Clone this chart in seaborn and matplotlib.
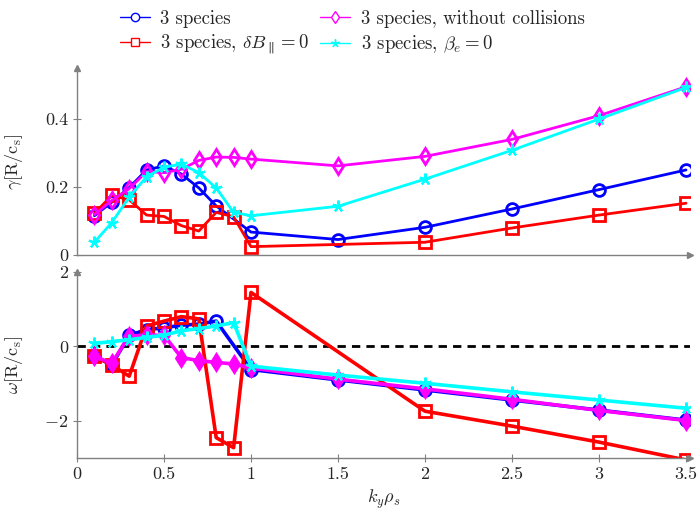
import matplotlib
matplotlib.use('Agg')
import matplotlib.pyplot as plt
from matplotlib.lines import Line2D
import seaborn as sns

sns.set_style('ticks')
plt.rcParams['font.family'] = 'serif'
plt.rcParams['font.serif'] = ['cmr10', 'DejaVu Serif']
plt.rcParams['mathtext.fontset'] = 'cm'
plt.rcParams['axes.formatter.use_mathtext'] = True

# data
k_blue = [0.1, 0.2, 0.3, 0.4, 0.5, 0.6, 0.7, 0.8, 1.0, 1.5, 2.0, 2.5, 3.0, 3.5]
gamma_blue = [0.115, 0.155, 0.198, 0.25, 0.262, 0.238, 0.197, 0.144, 0.067, 0.045, 0.081, 0.135, 0.192, 0.25]
omega_blue = [-0.25, -0.5, 0.3, 0.45, 0.5, 0.57, 0.6, 0.68, -0.62, -0.9, -1.17, -1.44, -1.71, -1.98]

k_red = [0.1, 0.2, 0.3, 0.4, 0.5, 0.6, 0.7, 0.8, 0.9, 1.0, 2.0, 2.5, 3.0, 3.5]
gamma_red = [0.122, 0.175, 0.162, 0.117, 0.113, 0.086, 0.07, 0.125, 0.112, 0.024, 0.037, 0.079, 0.117, 0.152]
omega_red = [-0.27, -0.5, -0.8, 0.55, 0.68, 0.8, 0.74, -2.45, -2.72, 1.45, -1.74, -2.14, -2.57, -3.05]

k_all = [0.1, 0.2, 0.3, 0.4, 0.5, 0.6, 0.7, 0.8, 0.9, 1.0, 1.5, 2.0, 2.5, 3.0, 3.5]
gamma_mag = [0.118, 0.16, 0.195, 0.245, 0.242, 0.252, 0.278, 0.288, 0.287, 0.282, 0.262, 0.29, 0.34, 0.41, 0.495]
omega_mag = [-0.27, -0.45, 0.28, 0.3, 0.3, -0.3, -0.38, -0.43, -0.47, -0.58, -0.88, -1.14, -1.42, -1.72, -1.99]
gamma_cyan = [0.037, 0.095, 0.17, 0.23, 0.258, 0.267, 0.242, 0.197, 0.125, 0.115, 0.143, 0.223, 0.308, 0.40, 0.493]
omega_cyan = [0.08, 0.13, 0.18, 0.24, 0.3, 0.42, 0.48, 0.55, 0.64, -0.53, -0.77, -0.99, -1.22, -1.44, -1.66]

labels = ['3 species', r'3 species, $\delta B_\parallel = 0$',
          '3 species, without collisions', r'3 species, $\beta_e = 0$']

fig = plt.figure(figsize=(7, 5.2), dpi=100)
ax1 = fig.add_axes([0.11, 0.51, 0.875, 0.359])
ax2 = fig.add_axes([0.11, 0.119, 0.875, 0.358])

lw = 2.0
gray = '#808080'
star = (5, 2, 0)  # asterisk like pgfplots "star"

series = [
    (k_blue, gamma_blue, omega_blue, 'blue', 'o', False),
    (k_red, gamma_red, omega_red, 'red', 's', False),
    (k_all, gamma_mag, omega_mag, 'magenta', 'd', True),
    (k_all, gamma_cyan, omega_cyan, 'cyan', star, True),
]

handles = []
for k, g, w, c, m, fill_bottom in series:
    ms = 8.5
    mew = 1.6 if m == star else 2.0
    sns.lineplot(x=k, y=g, ax=ax1, color=c, marker=m, markersize=ms,
                 markerfacecolor='none', markeredgecolor=c,
                 markeredgewidth=mew, linewidth=lw)
    sns.lineplot(x=k, y=w, ax=ax2, color=c, marker=m, markersize=ms,
                 markerfacecolor=c if fill_bottom else 'none', markeredgecolor=c,
                 markeredgewidth=mew, linewidth=lw + 0.6)
    handles.append(Line2D([], [], color=c, marker=m, markersize=6,
                          markerfacecolor='white', markeredgecolor=c,
                          markeredgewidth=1.0, linewidth=1.0))

ax2.axhline(0, color='black', linestyle=(0, (3, 2.2)), linewidth=2, zorder=1)

ax1.set_ylim(0, 0.55)
ax1.set_yticks([0, 0.2, 0.4])
ax1.set_yticklabels(['0', '0.2', '0.4'])
ax2.set_ylim(-3, 2)
ax2.set_yticks([-2, 0, 2])

for ax in (ax1, ax2):
    ax.set_xlim(0, 3.52)
    sns.despine(ax=ax)
    for s in ('left', 'bottom'):
        ax.spines[s].set_color(gray)
        ax.spines[s].set_linewidth(1.0)
    ax.plot(1, 0, '>', color=gray, markersize=5, transform=ax.transAxes, clip_on=False)
    ax.plot(0, 1, '^', color=gray, markersize=5, transform=ax.transAxes, clip_on=False)
    ax.tick_params(direction='inout', length=6, width=0.8, color=gray, labelsize=13)

ax1.tick_params(axis='x', bottom=False, labelbottom=False)
ax2.set_xticks([0, 0.5, 1, 1.5, 2, 2.5, 3, 3.5])
ax2.set_xticklabels(['0', '0.5', '1', '1.5', '2', '2.5', '3', '3.5'])
ax2.set_yticklabels(['$-2$', '0', '2'])

ax1.set_ylabel(r'$\gamma[\mathrm{R/c_s}]$', fontsize=13)
ax2.set_ylabel(r'$\omega[\mathrm{R/c_s}]$', fontsize=13)
ax2.set_xlabel(r'$k_y\rho_s$', fontsize=13)
ax1.yaxis.set_label_coords(-0.085, 0.5)
ax2.yaxis.set_label_coords(-0.085, 0.5)

fig.legend(handles, labels, loc='upper center', bbox_to_anchor=(0.503, 1.014), ncol=2,
           frameon=False, fontsize=13.5, handlelength=1.6, handletextpad=0.55,
           columnspacing=0.6, labelspacing=0.3)

fig.savefig('out.png', dpi=100)
